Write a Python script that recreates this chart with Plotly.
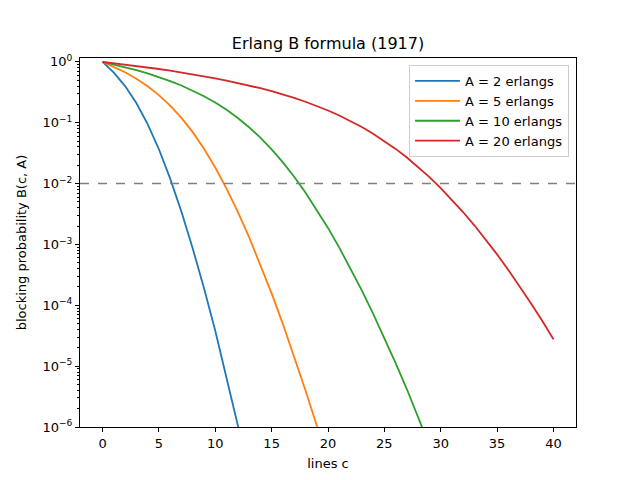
import plotly.graph_objects as go

# Erlang B blocking probability, lines c = 0..n
lines = list(range(0, 41))

b_a2 = [1.0, 0.6667, 0.4, 0.2105, 0.09524, 0.0367, 0.01208, 0.003441, 0.0008595,
        0.000191, 3.82e-05, 6.946e-06, 1.158e-06, 1.781e-07, 2.544e-08, 3.39e-09]
b_a5 = [1.0, 0.8333, 0.6757, 0.5297, 0.3983, 0.2849, 0.1918, 0.1205, 0.07005,
        0.03746, 0.01839, 0.008288, 0.003441, 0.001322, 0.0004719, 0.0001573,
        4.915e-05, 1.4455e-05, 4.015e-06, 1.0567e-06, 2.642e-07, 6.29e-08]
b_a10 = [1.0, 0.90909, 0.81967, 0.73206, 0.64666, 0.56395, 0.48452, 0.40904,
         0.33832, 0.27321, 0.21458, 0.16323, 0.11974, 0.08434, 0.05682, 0.0365,
         0.0223, 0.01295, 0.007143, 0.003745, 0.001869, 0.000889, 0.000404,
         0.0001756, 7.317e-05, 2.927e-05, 1.1257e-05, 4.169e-06, 1.489e-06,
         5.134e-07, 1.711e-07]
b_a20 = [1.0, 0.95238, 0.90498, 0.85782, 0.81093, 0.76436, 0.71814, 0.67233,
         0.62698, 0.58216, 0.53796, 0.49446, 0.45178, 0.41004, 0.36939, 0.32999,
         0.29203, 0.25571, 0.22126, 0.18891, 0.15889, 0.13143, 0.10673, 0.08493,
         0.0661, 0.05022, 0.03719, 0.02681, 0.01879, 0.01279, 0.008455, 0.005425,
         0.003379, 0.002044, 0.001201, 0.0006858, 0.0003809, 0.0002058, 0.0001083,
         5.554e-05, 2.777e-05]

series = [("A = 2 erlangs", b_a2, "#1f77b4"),
          ("A = 5 erlangs", b_a5, "#ff7f0e"),
          ("A = 10 erlangs", b_a10, "#2ca02c"),
          ("A = 20 erlangs", b_a20, "#d62728")]

target = 0.01

x_ticks = [0, 5, 10, 15, 20, 25, 30, 35, 40]
y_ticks = [1e-6, 1e-5, 1e-4, 1e-3, 1e-2, 1e-1, 1]
y_labels = ["10<sup>−6</sup>", "10<sup>−5</sup>", "10<sup>−4</sup>", "10<sup>−3</sup>",
            "10<sup>−2</sup>", "10<sup>−1</sup>", "10<sup>0</sup>"]
minor_y = [m * 10 ** e for e in range(-6, 1) for m in range(2, 10)]

fig = go.Figure()
for name, vals, col in series:
    fig.add_trace(go.Scatter(x=lines[:len(vals)], y=vals, mode="lines", name=name,
                             line=dict(color=col, width=1.8)))

fig.add_hline(y=target, line=dict(color="gray", width=1.5, dash="dash"))

axis_style = dict(showgrid=False, zeroline=False, showline=True, linecolor="black",
                  linewidth=1, mirror=True, ticks="outside", ticklen=4,
                  tickcolor="black", tickfont=dict(size=13, color="black"),
                  automargin=False)

# the page body adds 8px, so margins are pulled in by that much
fig.update_layout(
    width=640, height=480,
    paper_bgcolor="white", plot_bgcolor="white",
    margin=dict(l=72, r=72, t=50, b=61),
    font=dict(family="DejaVu Sans", color="black"),
    title=dict(text="Erlang B formula (1917)", x=0.5, xanchor="center",
               y=0.927, yanchor="middle", font=dict(size=16)),
    showlegend=True,
    legend=dict(x=0.986, y=0.981, xanchor="right", yanchor="top",
                bgcolor="rgba(255,255,255,0.8)", bordercolor="#cccccc",
                borderwidth=1, font=dict(size=13), itemwidth=45,
                tracegroupgap=2),
)
fig.update_xaxes(range=[-2, 42], tickvals=x_ticks,
                 title=dict(text="lines c", font=dict(size=13), standoff=9),
                 **axis_style)
fig.update_yaxes(type="log", range=[-6, 0.064], tickvals=y_ticks, ticktext=y_labels,
                 title=dict(text="blocking probability B(c, A)", font=dict(size=13), standoff=12),
                 minor=dict(tickvals=minor_y, ticks="outside", ticklen=2, tickcolor="black"),
                 **axis_style)

fig.write_html("out.html")
